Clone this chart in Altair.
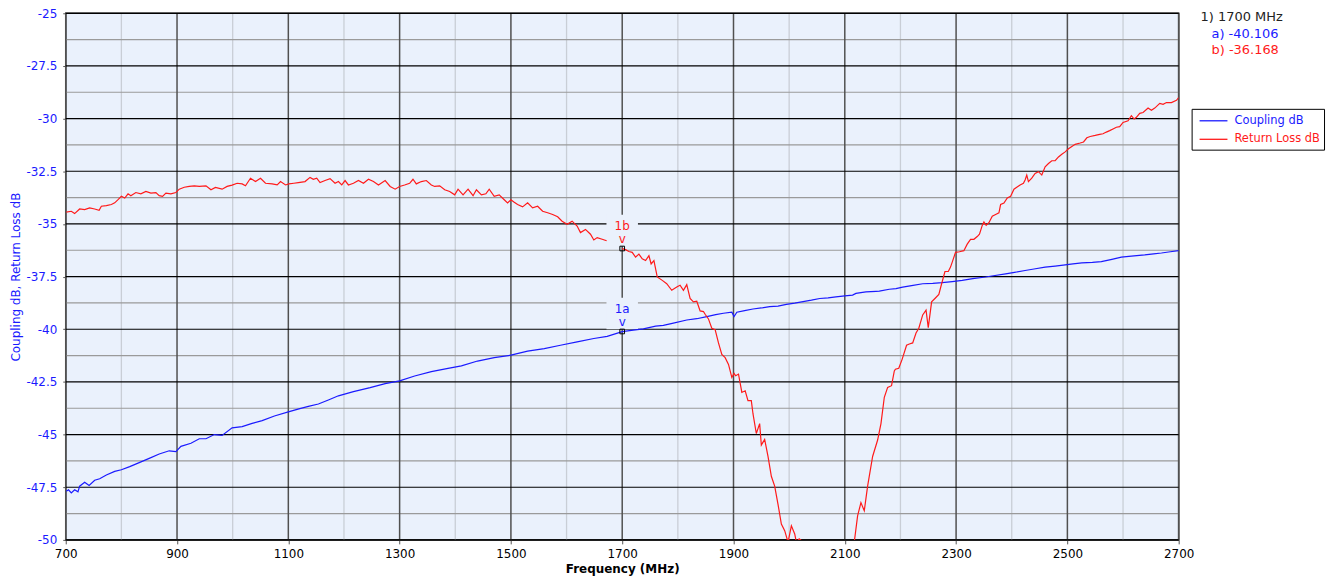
import altair as alt
import pandas as pd

FONT = "DejaVu Sans"
BLUE = "#1a1aff"
RED = "#ff1a1a"
BG = "#eaf1fc"

# ---- axis ticks / grid values ----
freq_ticks = [700, 900, 1100, 1300, 1500, 1700, 1900, 2100, 2300, 2500, 2700]
freq_minor = [800, 1000, 1200, 1400, 1600, 1800, 2000, 2200, 2400, 2600]
db_ticks = [-50, -47.5, -45, -42.5, -40, -37.5, -35, -32.5, -30, -27.5, -25]
db_minor = [-48.75, -46.25, -43.75, -41.25, -38.75, -36.25, -33.75, -31.25, -28.75, -26.25]

series_names = ["Coupling dB", "Return Loss dB"]
series_colors = [BLUE, RED]

# ---- Coupling dB trace ----
coup_f = [701, 705, 710, 716, 722, 725, 734, 742, 752, 761, 773, 788, 800, 815, 832, 850, 868, 886, 898, 907,
          925, 940, 952, 967, 981, 999, 1017, 1035, 1053, 1075, 1100, 1119, 1136, 1154, 1172, 1190, 1217, 1247,
          1274, 1300, 1327, 1357, 1387, 1411, 1440, 1470, 1500, 1530, 1560, 1589, 1619, 1649, 1673, 1700, 1720,
          1738, 1760, 1774, 1790, 1816, 1834, 1852, 1868, 1882, 1897, 1901, 1906, 1920, 1935, 1950, 1965, 1980,
          1995, 2010, 2025, 2040, 2055, 2070, 2084, 2100, 2114, 2120, 2138, 2156, 2162, 2180, 2192, 2204, 2220,
          2240, 2258, 2275, 2293, 2311, 2330, 2353, 2370, 2389, 2405, 2424, 2440, 2460, 2478, 2496, 2510, 2526,
          2545, 2561, 2580, 2597, 2615, 2639, 2655, 2669, 2685, 2700]
coup_db = [-47.69, -47.62, -47.77, -47.62, -47.72, -47.45, -47.26, -47.42, -47.17, -47.10, -46.92, -46.75, -46.67,
           -46.52, -46.33, -46.13, -45.92, -45.77, -45.81, -45.56, -45.41, -45.20, -45.20, -45.00, -45.04, -44.68,
           -44.62, -44.47, -44.34, -44.12, -43.92, -43.78, -43.66, -43.55, -43.36, -43.16, -42.96, -42.77, -42.58,
           -42.45, -42.22, -42.01, -41.86, -41.74, -41.51, -41.35, -41.23, -41.04, -40.92, -40.76, -40.60, -40.44,
           -40.34, -40.11, -40.04, -39.98, -39.85, -39.82, -39.72, -39.56, -39.50, -39.40, -39.31, -39.24, -39.19,
           -39.40, -39.19, -39.12, -39.04, -38.99, -38.93, -38.90, -38.82, -38.76, -38.69, -38.62, -38.54, -38.51,
           -38.46, -38.42, -38.38, -38.30, -38.23, -38.20, -38.19, -38.10, -38.07, -38.00, -37.93, -37.84, -37.82,
           -37.79, -37.74, -37.68, -37.60, -37.52, -37.45, -37.37, -37.30, -37.21, -37.14, -37.05, -37.00, -36.94,
           -36.90, -36.85, -36.83, -36.79, -36.68, -36.58, -36.53, -36.47, -36.42, -36.38, -36.32, -36.27]

# ---- Return Loss dB trace, part 1 (up to marker label) ----
rl1_f = [701, 710, 716, 725, 734, 743, 752, 760, 764, 773, 782, 788, 794, 800, 806, 812, 817, 826, 835, 844, 853,
         862, 868, 874, 880, 889, 898, 904, 913, 922, 931, 940, 952, 961, 969, 981, 990, 999, 1008, 1017, 1023,
         1032, 1041, 1050, 1059, 1071, 1080, 1086, 1095, 1101, 1110, 1118, 1130, 1139, 1145, 1151, 1157, 1166,
         1175, 1184, 1190, 1196, 1202, 1208, 1217, 1226, 1235, 1244, 1253, 1262, 1274, 1283, 1292, 1300, 1309,
         1318, 1324, 1330, 1339, 1348, 1357, 1363, 1372, 1381, 1390, 1399, 1405, 1414, 1423, 1432, 1438, 1447,
         1455, 1461, 1470, 1479, 1488, 1494, 1500, 1506, 1512, 1521, 1530, 1539, 1548, 1557, 1566, 1575, 1584,
         1592, 1601, 1610, 1619, 1625, 1634, 1643, 1649, 1655, 1664, 1672]
rl1_db = [-34.44, -34.40, -34.51, -34.29, -34.32, -34.24, -34.29, -34.35, -34.16, -34.13, -34.08, -34.00, -33.85,
          -33.69, -33.77, -33.57, -33.66, -33.51, -33.57, -33.46, -33.54, -33.51, -33.66, -33.69, -33.54, -33.57,
          -33.51, -33.35, -33.26, -33.22, -33.19, -33.22, -33.19, -33.38, -33.27, -33.35, -33.22, -33.16, -33.07,
          -33.10, -33.19, -32.83, -32.99, -32.83, -33.07, -33.10, -33.15, -32.99, -33.15, -33.10, -33.07, -33.04,
          -32.99, -32.79, -32.88, -32.83, -33.04, -32.94, -32.85, -33.07, -32.99, -33.15, -32.94, -33.15, -33.07,
          -32.94, -33.07, -32.88, -32.99, -33.15, -32.94, -33.22, -33.35, -33.22, -33.15, -33.07, -32.88, -33.10,
          -32.99, -32.94, -33.15, -33.22, -33.19, -33.38, -33.46, -33.62, -33.35, -33.62, -33.35, -33.66, -33.38,
          -33.62, -33.57, -33.35, -33.69, -33.62, -33.85, -34.00, -33.85, -33.97, -34.08, -34.19, -34.00, -34.24,
          -34.16, -34.40, -34.47, -34.55, -34.66, -34.87, -35.02, -34.87, -35.10, -35.41, -35.26, -35.49, -35.76,
          -35.65, -35.73, -35.80]

# ---- Return Loss dB trace, part 2 (from marker on; dips below the -50 floor) ----
rl2_f = [1700, 1706, 1712, 1718, 1724, 1730, 1736, 1742, 1748, 1752, 1757, 1763, 1772, 1780, 1789, 1798, 1804,
         1810, 1816, 1822, 1828, 1834, 1840, 1846, 1849, 1855, 1861, 1867, 1873, 1879, 1885, 1891, 1897, 1901,
         1904, 1909, 1915, 1921, 1926, 1932, 1935, 1941, 1947, 1950, 1956, 1962, 1968, 1974, 1980, 1986, 1992,
         1998, 2004, 2010, 2013, 2018, 2022, 2030, 2050, 2075, 2100, 2112, 2117, 2123, 2129, 2135, 2141, 2150,
         2159, 2165, 2171, 2177, 2184, 2189, 2191, 2197, 2203, 2211, 2216, 2222, 2228, 2233, 2240, 2246, 2250,
         2256, 2262, 2269, 2274, 2280, 2286, 2290, 2294, 2299, 2306, 2314, 2320, 2326, 2332, 2338, 2342, 2347,
         2350, 2354, 2359, 2365, 2371, 2377, 2380, 2386, 2392, 2398, 2404, 2409, 2415, 2421, 2424, 2427, 2430,
         2436, 2442, 2448, 2454, 2460, 2466, 2472, 2478, 2484, 2490, 2496, 2502, 2508, 2514, 2523, 2529, 2535,
         2541, 2550, 2558, 2564, 2570, 2576, 2582, 2588, 2594, 2600, 2609, 2615, 2620, 2624, 2630, 2636, 2645,
         2651, 2657, 2666, 2672, 2678, 2687, 2696, 2700]
rl2_db = [-36.17, -36.22, -36.31, -36.35, -36.58, -36.43, -36.66, -36.74, -36.51, -36.90, -36.74, -37.52, -37.68,
          -37.84, -38.15, -37.99, -37.91, -38.15, -37.88, -38.54, -38.70, -38.67, -39.13, -39.16, -39.29, -39.51,
          -39.95, -40.02, -40.65, -41.20, -41.35, -41.67, -42.29, -42.10, -42.21, -42.13, -43.00, -42.92, -43.39,
          -43.39, -44.01, -44.95, -44.48, -45.50, -45.23, -46.04, -46.98, -47.45, -48.31, -49.25, -49.56, -50.11,
          -49.33, -49.72, -50.11, -49.95, -50.03, -51.20, -52.50, -53.50, -52.50, -51.00, -50.11, -48.86, -48.23,
          -48.62, -47.45, -46.04, -45.26, -44.48, -43.23, -42.76, -42.68, -41.98, -41.90, -41.85, -41.43, -40.76,
          -40.70, -40.65, -40.18, -39.95, -39.32, -39.09, -39.92, -38.70, -38.54, -38.35, -37.84, -37.26, -37.26,
          -37.05, -36.74, -36.35, -36.32, -36.27, -35.96, -35.73, -35.73, -35.60, -35.49, -35.07, -34.91, -35.07,
          -34.94, -34.63, -34.55, -34.47, -34.08, -34.01, -33.77, -33.69, -33.35, -33.26, -33.15, -33.07, -32.91,
          -32.68, -32.99, -32.83, -32.60, -32.52, -32.68, -32.29, -32.13, -32.00, -32.00, -31.82, -31.69, -31.58,
          -31.43, -31.32, -31.22, -31.16, -31.11, -30.91, -30.85, -30.80, -30.75, -30.72, -30.64, -30.57, -30.49,
          -30.41, -30.38, -30.18, -30.10, -29.86, -30.02, -29.94, -29.75, -29.71, -29.50, -29.60, -29.50, -29.28,
          -29.32, -29.24, -29.24, -29.13, -29.00]

# ---- marker 1 ----
marker_freq = 1700
marker_ids = ["1a", "1b"]
marker_db = [-40.106, -36.168]

# ---------------- data frames ----------------
lines_df = pd.concat([
    pd.DataFrame({"f": coup_f, "v": coup_db, "series": series_names[0], "seg": "c"}),
    pd.DataFrame({"f": rl1_f, "v": rl1_db, "series": series_names[1], "seg": "r1"}),
    pd.DataFrame({"f": rl2_f, "v": rl2_db, "series": series_names[1], "seg": "r2"}),
], ignore_index=True)

mk_df = pd.DataFrame({"f": [marker_freq] * 2, "v": marker_db, "id": marker_ids,
                      "col": series_colors})

xs = alt.Scale(domain=[700, 2700], nice=False, zero=False)
ys = alt.Scale(domain=[-50, -25], nice=False, zero=False)

x_axis = alt.Axis(values=freq_ticks, title="Frequency (MHz)", grid=False, domain=False,
                  tickSize=4, tickColor="#555555", labelPadding=5, labelFont=FONT, labelFontSize=12,
                  labelColor="black", labelExpr="'' + datum.value", titleFont=FONT, titleFontSize=12,
                  titleFontWeight="bold", titleColor="black", titlePadding=4, labelFlush=False)
y_axis = alt.Axis(values=db_ticks, title="Coupling dB, Return Loss dB", grid=False, domain=False,
                  tickSize=3, tickColor="#555555", labelPadding=6, labelFont=FONT, labelFontSize=12,
                  labelColor=BLUE, labelExpr="'' + datum.value", titleFont=FONT, titleFontSize=12,
                  titleFontWeight="normal", titleColor=BLUE, titlePadding=3, labelFlush=False)


def X():
    return alt.X("f:Q", scale=xs, axis=x_axis)


def Y():
    return alt.Y("v:Q", scale=ys, axis=y_axis)


xminor = alt.Chart(pd.DataFrame({"f": freq_minor})).mark_rule(color="#c9ced6", strokeWidth=1.3).encode(x=X())
yminor = alt.Chart(pd.DataFrame({"v": db_minor})).mark_rule(color="#9a9a9a", strokeWidth=1.2).encode(y=Y())
xmajor = alt.Chart(pd.DataFrame({"f": freq_ticks})).mark_rule(color="#505050", strokeWidth=1.5).encode(x=X())
ymajor = alt.Chart(pd.DataFrame({"v": db_ticks})).mark_rule(color="#000000", strokeWidth=1.2).encode(y=Y())

label_bg = alt.Chart(mk_df).mark_point(shape="square", filled=True, color=BG, opacity=1, size=1000,
                                        strokeWidth=0, yOffset=-18).encode(x=X(), y=Y())

legend = alt.Legend(orient="none", legendX=1131, legendY=96, title=None, symbolType="M-2,0H2",
                    symbolSize=196, symbolStrokeWidth=1.3, symbolOffset=10, labelFont=FONT, labelFontSize=11.5,
                    labelColor={"expr": "datum.label == 'Coupling dB' ? '%s' : '%s'" % (BLUE, RED)},
                    labelOffset=13, padding=4, rowPadding=4.6, strokeColor="black", fillColor="white",
                    cornerRadius=0)

lines = alt.Chart(lines_df).mark_line(clip=True, strokeWidth=1.2).encode(
    x=X(), y=Y(),
    color=alt.Color("series:N", scale=alt.Scale(domain=series_names, range=series_colors), legend=legend),
    detail="seg:N",
    order="f:Q",
)

mk_label = alt.Chart(mk_df).mark_text(font=FONT, fontSize=12, dy=-23, baseline="middle").encode(
    x=X(), y=Y(), text="id:N", color=alt.Color("col:N", scale=None))
mk_v = alt.Chart(mk_df).mark_text(font=FONT, fontSize=12, dy=-10, baseline="middle").encode(
    x=X(), y=Y(), text=alt.value("v"), color=alt.Color("col:N", scale=None))
mk_box = alt.Chart(mk_df).mark_point(shape="square", filled=False, color="black", size=22,
                                      strokeWidth=1, opacity=1).encode(x=X(), y=Y())

info_df = pd.DataFrame({
    "txt": ["1) %d MHz" % marker_freq] + ["%s) %.3f" % (m[-1], v) for m, v in zip(marker_ids, marker_db)],
    "px": [1140, 1151, 1151],
    "py": [4, 20.7, 37.3],
    "col": ["#222222"] + series_colors,
})
info_layers = []
for i in range(len(info_df)):
    row = info_df.iloc[i]
    info_layers.append(
        alt.Chart(alt.Data(values=[{}])).mark_text(font=FONT, fontSize=13, align="left", baseline="middle").encode(
            x=alt.value(float(row.px)), y=alt.value(float(row.py)), text=alt.value(row.txt),
            color=alt.value(row.col))
    )

chart = alt.layer(xminor, yminor, xmajor, ymajor, label_bg, lines, mk_label, mk_v, mk_box, *info_layers).properties(
    width=1118, height=529,
    autosize=alt.AutoSizeParams(type="none"),
    padding={"left": 58, "top": 4, "right": 150, "bottom": 40},
).configure_view(fill=BG, stroke="black", strokeWidth=1.5)

chart.save("out.html", embed_options={"renderer": "svg", "actions": False})
